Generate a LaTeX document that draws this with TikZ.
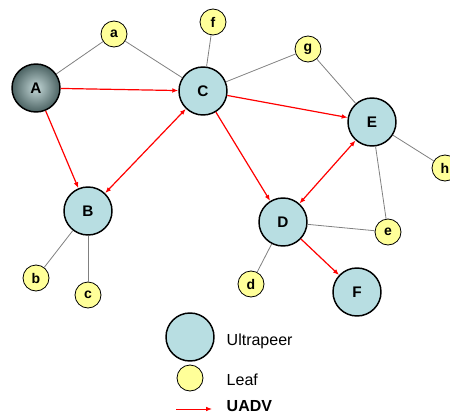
\documentclass[tikz,border=0pt]{standalone}
\usepackage{fontspec}
\setmainfont{Liberation Sans}
\usepackage{tikz}
\usetikzlibrary{arrows.meta}

\definecolor{peerblue}{RGB}{184,222,226}
\definecolor{leafyellow}{RGB}{255,255,153}
\definecolor{darkpeer}{RGB}{75,98,98}
\definecolor{lightpeer}{RGB}{195,215,215}

\begin{document}
\begin{tikzpicture}[x=0.75pt, y=-0.75pt,
    ultra/.style={circle, draw, line width=1.1pt, fill=peerblue, minimum size=36pt, inner sep=0pt, font=\fontsize{11.5}{13}\selectfont\bfseries},
    leaf/.style={circle, draw, line width=0.6pt, fill=leafyellow, minimum size=19.5pt, inner sep=0pt, font=\fontsize{10.5}{12}\selectfont\bfseries},
    link/.style={draw=gray, line width=0.6pt},
    adv/.style={draw=red, line width=0.9pt, -{Latex[length=4.5pt, width=3.5pt]}},
    legendtext/.style={anchor=west, font=\fontsize{12}{14}\selectfont}]
    \useasboundingbox (0, 0) rectangle (450, 414);

    \node[ultra, shading=radial, inner color=lightpeer, outer color=darkpeer] at (36, 88) (A) {A};
    \node[ultra] at (88, 211)  (B) {B};
    \node[ultra] at (203, 91)  (C) {C};
    \node[ultra] at (283, 222) (D) {D};
    \node[ultra] at (372, 122) (E) {E};
    \node[ultra] at (357, 292) (F) {F};

    \node[leaf] at (114, 34)  (a) {a};
    \node[leaf] at (36, 278)  (b) {b};
    \node[leaf] at (88, 295)  (c) {c};
    \node[leaf] at (251, 284) (d) {d};
    \node[leaf] at (388, 232) (e) {e};
    \node[leaf] at (213, 22)  (f) {f};
    \node[leaf] at (308, 49)  (g) {g};
    \node[leaf] at (445, 168) (h) {h};

    \draw [link] (A) -- (a);
    \draw [link] (a) -- (C);
    \draw [link] (C) -- (f);
    \draw [link] (C) -- (g);
    \draw [link] (g) -- (E);
    \draw [link] (E) -- (h);
    \draw [link] (E) -- (e);
    \draw [link] (D) -- (e);
    \draw [link] (D) -- (d);
    \draw [link] (B) -- (b);
    \draw [link] (B) -- (c);

    \draw [adv] (A) -- (C);
    \draw [adv] (A) -- (B);
    \draw [adv, {Latex[length=4.5pt, width=3.5pt]}-{Latex[length=4.5pt, width=3.5pt]}] (B) -- (C);
    \draw [adv] (C) -- (E);
    \draw [adv] (C) -- (D);
    \draw [adv, {Latex[length=4.5pt, width=3.5pt]}-{Latex[length=4.5pt, width=3.5pt]}] (D) -- (E);
    \draw [adv] (D) -- (F);

    % legend
    \node[ultra] at (190, 337) (ultrakey) {};
    \node[leaf] at (190, 378)  (leafkey) {};
    \coordinate (advstart) at (176, 409);
    \coordinate (advend) at (212, 409);
    \draw [adv, line width=0.7pt] (advstart) -- (advend);
    \node[legendtext] at (222, 341) (ultralabel) {Ultrapeer};
    \node[legendtext] at (222, 380) (leaflabel) {Leaf};
    \node[legendtext, font=\fontsize{12}{14}\selectfont\bfseries] at (222, 406) (advlabel) {UADV};
\end{tikzpicture}
\end{document}
